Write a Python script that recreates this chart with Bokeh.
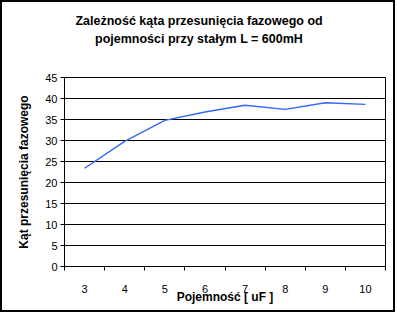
from bokeh.plotting import figure
from bokeh.models import FixedTicker, Range1d, Title
from bokeh.embed import file_html
from bokeh.resources import INLINE

# Data
capacitance = [3, 4, 5, 6, 7, 8, 9, 10]
angle = [23.4, 29.8, 34.8, 36.8, 38.4, 37.4, 39.0, 38.6]
y_ticks = [0, 5, 10, 15, 20, 25, 30, 35, 40, 45]
title_lines = ["Zależność kąta przesunięcia fazowego od",
               "pojemności przy stałym L = 600mH"]
x_label = "Pojemność [ uF ]"
y_label = "Kąt przesunięcia fazowego"

FONT = "Liberation Sans"
W, H = 396, 312

p = figure(width=W, height=H, output_backend="svg", toolbar_location=None,
           x_range=Range1d(capacitance[0] - 0.5, capacitance[-1] + 0.5),
           y_range=Range1d(y_ticks[0], y_ticks[-1]),
           min_border_left=64, min_border_right=11, min_border_top=77, min_border_bottom=46)
p.background_fill_color = "white"
p.border_fill_color = "white"
p.outline_line_color = "black"
p.outline_line_width = 1
p.title.text = ""

# spacer between frame and title (first added = closest to frame)
p.add_layout(Title(text="\u00a0", text_font_size="1px", standoff=28, text_color="white"), "above")
# title lines, each centred on the canvas (offset from left of panel)
for txt, off in ((title_lines[1], 30.5), (title_lines[0], 10.9)):
    p.add_layout(Title(text=txt, align="left", offset=off, standoff=2, vertical_align="bottom",
                       text_font=FONT, text_font_style="bold", text_font_size="12.5px",
                       text_color="black", text_line_height=1.0), "above")

# x axis: labels at category centres, ticks at boundaries
p.xaxis.ticker = FixedTicker(ticks=capacitance,
                             minor_ticks=[c - 0.5 for c in capacitance] + [capacitance[-1] + 0.5])
p.xaxis.major_tick_out = 0
p.xaxis.major_tick_in = 0
p.xaxis.minor_tick_out = 4
p.xaxis.minor_tick_in = 0
p.xaxis.minor_tick_line_color = "black"
p.xaxis.major_label_standoff = 14
p.xaxis.axis_label = x_label
p.xaxis.axis_label_standoff = -6

p.yaxis.ticker = FixedTicker(ticks=y_ticks)
p.yaxis.major_tick_out = 4
p.yaxis.major_tick_in = 0
p.yaxis.minor_tick_line_color = None
p.yaxis.major_label_standoff = 3
p.yaxis.axis_label = y_label
p.yaxis.axis_label_standoff = 11

for ax in (p.xaxis, p.yaxis):
    ax.major_label_text_font = FONT
    ax.major_label_text_font_size = "11px"
    ax.major_label_text_color = "black"
    ax.axis_line_color = "black"
    ax.major_tick_line_color = "black"
    ax.axis_label_text_font = FONT
    ax.axis_label_text_font_style = "bold"
    ax.axis_label_text_font_size = "12px"
    ax.axis_label_text_color = "black"

p.xgrid.grid_line_color = None
p.ygrid.grid_line_color = "black"
p.ygrid.grid_line_width = 1

p.line(capacitance, angle, line_color="#3366FF", line_width=1.4)

html = file_html(p, INLINE)
frame_div = ('<div style="position:fixed;left:0;top:0;width:395px;height:312px;'
             'box-sizing:border-box;border:2px solid black;pointer-events:none;z-index:10"></div>')
html = html.replace("</body>", frame_div + "</body>")
open("out.html", "w").write(html)
